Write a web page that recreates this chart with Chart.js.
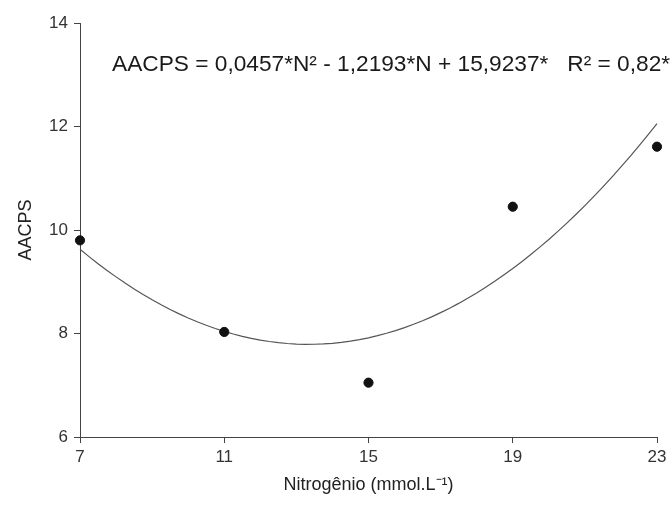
<!DOCTYPE html>
<html>
<head>
<meta charset="utf-8">
<title>AACPS x Nitrogênio</title>
<script src="https://cdn.jsdelivr.net/npm/chart.js@4"></script>
<style>
  html, body { margin: 0; padding: 0; background: #fff; }
  #wrap { width: 671px; height: 508px; }
</style>
</head>
<body>
<div id="wrap"><canvas id="chart" width="671" height="508"></canvas></div>
<script>
// nitrogen doses (mmol/L) and observed AACPS
const doses = [7, 11, 15, 19, 23];
const aacps = [9.80, 8.03, 7.05, 10.45, 11.61];

// quadratic fit: a*N^2 + b*N + c
const fitCoef = [0.0457, -1.2193, 15.9237];
const xTicks = [7, 11, 15, 19, 23];
const yTicks = [6, 8, 10, 12, 14];

const equationText = "AACPS = 0,0457*N² - 1,2193*N + 15,9237*   R² = 0,82*";

const points = doses.map((d, i) => ({ x: d, y: aacps[i] }));

// regression curve across the dose range
const curve = [];
for (let n = doses[0]; n <= doses[doses.length - 1] + 1e-9; n += 0.25) {
  curve.push({ x: n, y: fitCoef[0] * n * n + fitCoef[1] * n + fitCoef[2] });
}

const FONT = "'Liberation Sans', Arial, sans-serif";

const equationLabel = {
  id: "equationLabel",
  afterDraw(chart) {
    const { ctx, chartArea } = chart;
    ctx.save();
    ctx.font = "22.7px " + FONT;
    ctx.fillStyle = "#1a1a1a";
    ctx.textAlign = "left";
    ctx.textBaseline = "alphabetic";
    ctx.fillText(equationText, chartArea.left + 32, chartArea.top + 48);
    ctx.restore();
  }
};

new Chart(document.getElementById("chart"), {
  type: "scatter",
  data: {
    datasets: [
      {
        type: "line",
        data: curve,
        borderColor: "#555",
        borderWidth: 1.2,
        pointRadius: 0,
        fill: false,
        tension: 0,
        clip: false,
        order: 2
      },
      {
        data: points,
        backgroundColor: "#111",
        borderColor: "#111",
        pointRadius: 4.6,
        clip: false,
        order: 1
      }
    ]
  },
  options: {
    responsive: false,
    animation: false,
    layout: { padding: { top: 23, right: 14, bottom: 0, left: 0 } },
    plugins: {
      legend: { display: false },
      tooltip: { enabled: false }
    },
    scales: {
      x: {
        type: "linear",
        min: 7,
        max: 23,
        afterBuildTicks: (s) => { s.ticks = xTicks.map((v) => ({ value: v })); },
        afterFit: (s) => { s.height = 71; },
        ticks: { color: "#333", padding: 4, font: { family: FONT, size: 17 } },
        grid: { drawOnChartArea: false, drawTicks: true, tickLength: 6, color: "#444" },
        border: { color: "#444", width: 1 },
        title: {
          display: true,
          text: "Nitrogênio (mmol.L⁻¹)",
          color: "#222",
          font: { family: FONT, size: 18 },
          padding: { top: 0, bottom: 12 }
        }
      },
      y: {
        min: 6,
        max: 14,
        afterBuildTicks: (s) => { s.ticks = yTicks.map((v) => ({ value: v })); },
        afterFit: (s) => { s.width = 80; },
        ticks: { color: "#333", padding: 6, font: { family: FONT, size: 17 } },
        grid: { drawOnChartArea: false, drawTicks: true, tickLength: 6, color: "#444" },
        border: { color: "#444", width: 1 },
        title: {
          display: true,
          text: "AACPS",
          color: "#222",
          font: { family: FONT, size: 18 },
          padding: { top: 15, bottom: 0 }
        }
      }
    }
  },
  plugins: [equationLabel]
});
</script>
</body>
</html>
